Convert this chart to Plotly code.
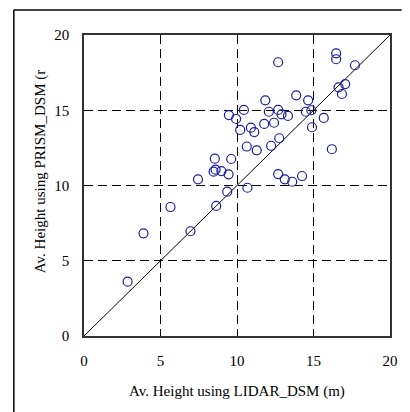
import plotly.graph_objects as go

# LIDAR_DSM average height (m)
lidar = [9.47, 9.94, 10.45, 10.21, 10.64, 8.55, 9.62, 8.47, 8.60, 8.98, 9.45,
         7.45, 9.36, 10.68,
         16.48, 16.48, 12.69, 17.71, 17.07, 16.64, 16.86, 13.87, 11.85, 14.65,
         12.08, 12.69, 12.91, 13.33, 14.50, 14.86, 15.67, 10.91, 11.13, 11.78,
         12.42, 14.90, 12.76, 11.29, 12.23, 16.20, 12.69, 13.12, 13.61, 14.25,
         5.65, 8.64, 3.89, 6.96, 2.85]
# PRISM_DSM average height (m)
prism = [14.68, 14.42, 15.02, 13.69, 12.59, 11.78, 11.76, 10.92, 11.05, 10.96, 10.74,
         10.41, 9.59, 9.85,
         18.78, 18.39, 18.19, 17.99, 16.74, 16.52, 16.08, 15.99, 15.66, 15.66,
         14.90, 15.02, 14.73, 14.62, 14.90, 15.00, 14.49, 13.84, 13.55, 14.09,
         14.17, 13.87, 13.14, 12.34, 12.64, 12.41, 10.76, 10.41, 10.25, 10.63,
         8.57, 8.64, 6.82, 6.96, 3.61]

line_x = [0, 20]
line_y = [0, 20]
tick_vals = [0, 5, 10, 15, 20]

x_title = "Av. Height using LIDAR_DSM (m)"
y_title = "Av. Height using PRISM_DSM (r"

font_family = "Liberation Serif"

fig = go.Figure()
fig.add_trace(go.Scatter(x=line_x, y=line_y, mode="lines",
                         line=dict(color="black", width=1), showlegend=False,
                         hoverinfo="skip"))
fig.add_trace(go.Scatter(x=lidar, y=prism, mode="markers",
                         marker=dict(symbol="circle-open", size=9,
                                     color="#1c1ca0", line=dict(width=1.2, color="#1c1ca0")),
                         showlegend=False))

axis_common = dict(
    range=[0, 20], tickvals=tick_vals, showgrid=True,
    gridcolor="black", gridwidth=1, griddash="9px,5px",
    zeroline=False, showline=True, linecolor="#333333", linewidth=1.5, mirror=True,
    ticks="inside", ticklen=4, tickcolor="black",
    tickfont=dict(family=font_family, size=15, color="black"),
    ticklabelstandoff=10,
)
fig.update_xaxes(**axis_common)
fig.update_yaxes(**axis_common)

W, H = 410, 412
L, R, T, B = 84, 12, 35, 76
pw = W - L - R
ph = H - T - B

def px_x(px):
    return (px - L) / pw

def px_y(py):
    return (H - B - py) / ph

frame = dict(color="black", width=1.5)
fig.update_layout(
    width=W, height=H, autosize=False,
    margin=dict(l=L, r=R, t=T, b=B),
    paper_bgcolor="white", plot_bgcolor="white",
    font=dict(family=font_family, size=15, color="black"),
    shapes=[
        dict(type="line", xref="paper", yref="paper",
             x0=px_x(12), x1=px_x(12), y0=px_y(412), y1=px_y(10), line=frame),
        dict(type="line", xref="paper", yref="paper",
             x0=px_x(12), x1=px_x(410), y0=px_y(10), y1=px_y(10), line=frame),
    ],
    annotations=[
        dict(text=x_title, xref="paper", yref="paper", x=0.5, y=px_y(391),
             xanchor="center", yanchor="middle", showarrow=False,
             font=dict(family=font_family, size=15, color="black")),
        dict(text=y_title, xref="paper", yref="paper", x=px_x(39), y=px_y(172),
             xanchor="center", yanchor="middle", showarrow=False, textangle=-90,
             font=dict(family=font_family, size=15, color="black")),
    ],
)

fig.write_html("out.html",
               config={"responsive": False, "displayModeBar": False},
               post_script="document.body.style.margin='0';document.body.style.overflow='hidden';")
